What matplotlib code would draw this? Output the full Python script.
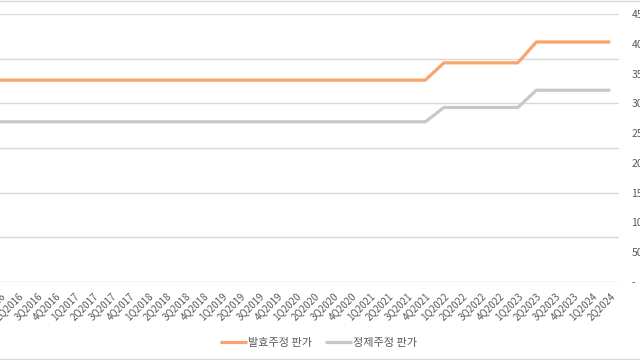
import matplotlib.pyplot as plt
import numpy as np

plt.rcParams['font.family'] = ['Noto Sans CJK KR', 'DejaVu Sans']

# quarters 1Q2016 .. 2Q2024
quarters = [f'{q}Q{y}' for y in range(2016, 2025) for q in range(1, 5)][:34]

# price series
fermented = [339] * 24 + [368] * 5 + [403] * 5
refined = [269] * 24 + [293] * 5 + [322] * 5

orange = '#F8A46C'
grey = '#C8C8C8'
text_c = '#595959'

fig = plt.figure(figsize=(6.4, 3.6), dpi=100, facecolor='white')
ax = fig.add_axes([0.0, 1 - 282 / 360, 619 / 640, (282 - 14) / 360])

x = np.arange(len(quarters))
ax.plot(x, fermented, color=orange, linewidth=2.3, solid_capstyle='butt', label='발효주정 판가', zorder=3)
ax.plot(x, refined, color=grey, linewidth=2.3, solid_capstyle='butt', label='정제주정 판가', zorder=3)

ax.set_xlim(0.19, 33.47)
ax.set_ylim(0, 450)

# gridlines (primary scale) every 75
for g in np.arange(75, 451, 75):
    ax.axhline(g, color='#D9D9D9', linewidth=1.0, zorder=1)
ax.axhline(0, color='#D0D0D0', linewidth=1.0, zorder=2)

ax.yaxis.tick_right()
yt = np.arange(0, 451, 50)
ax.set_yticks(yt)
ax.set_yticklabels(['-'] + [str(v) for v in yt[1:]], fontsize=7.5, color=text_c, ha='left')
ax.tick_params(axis='y', length=0, pad=9)

ax.set_xticks(x)
ax.set_xticklabels(quarters, rotation=45, ha='right', rotation_mode='anchor', fontsize=7, color=text_c)
ax.tick_params(axis='x', length=0, pad=6)

for s in ax.spines.values():
    s.set_visible(False)

leg = fig.legend(loc='lower center', bbox_to_anchor=(0.498, 0.005), ncol=2, frameon=False,
                 fontsize=8, handlelength=2.4, columnspacing=1.2, handletextpad=0.1)
for t in leg.get_texts():
    t.set_color(text_c)

# outer chart border (partly visible)
fig.add_artist(plt.Line2D([0, 1], [0.998, 0.998], color='#D9D9D9', linewidth=1, transform=fig.transFigure))
fig.add_artist(plt.Line2D([0, 1], [0.004, 0.004], color='#D9D9D9', linewidth=1, transform=fig.transFigure))

fig.savefig('out.png', dpi=100, facecolor='white')
